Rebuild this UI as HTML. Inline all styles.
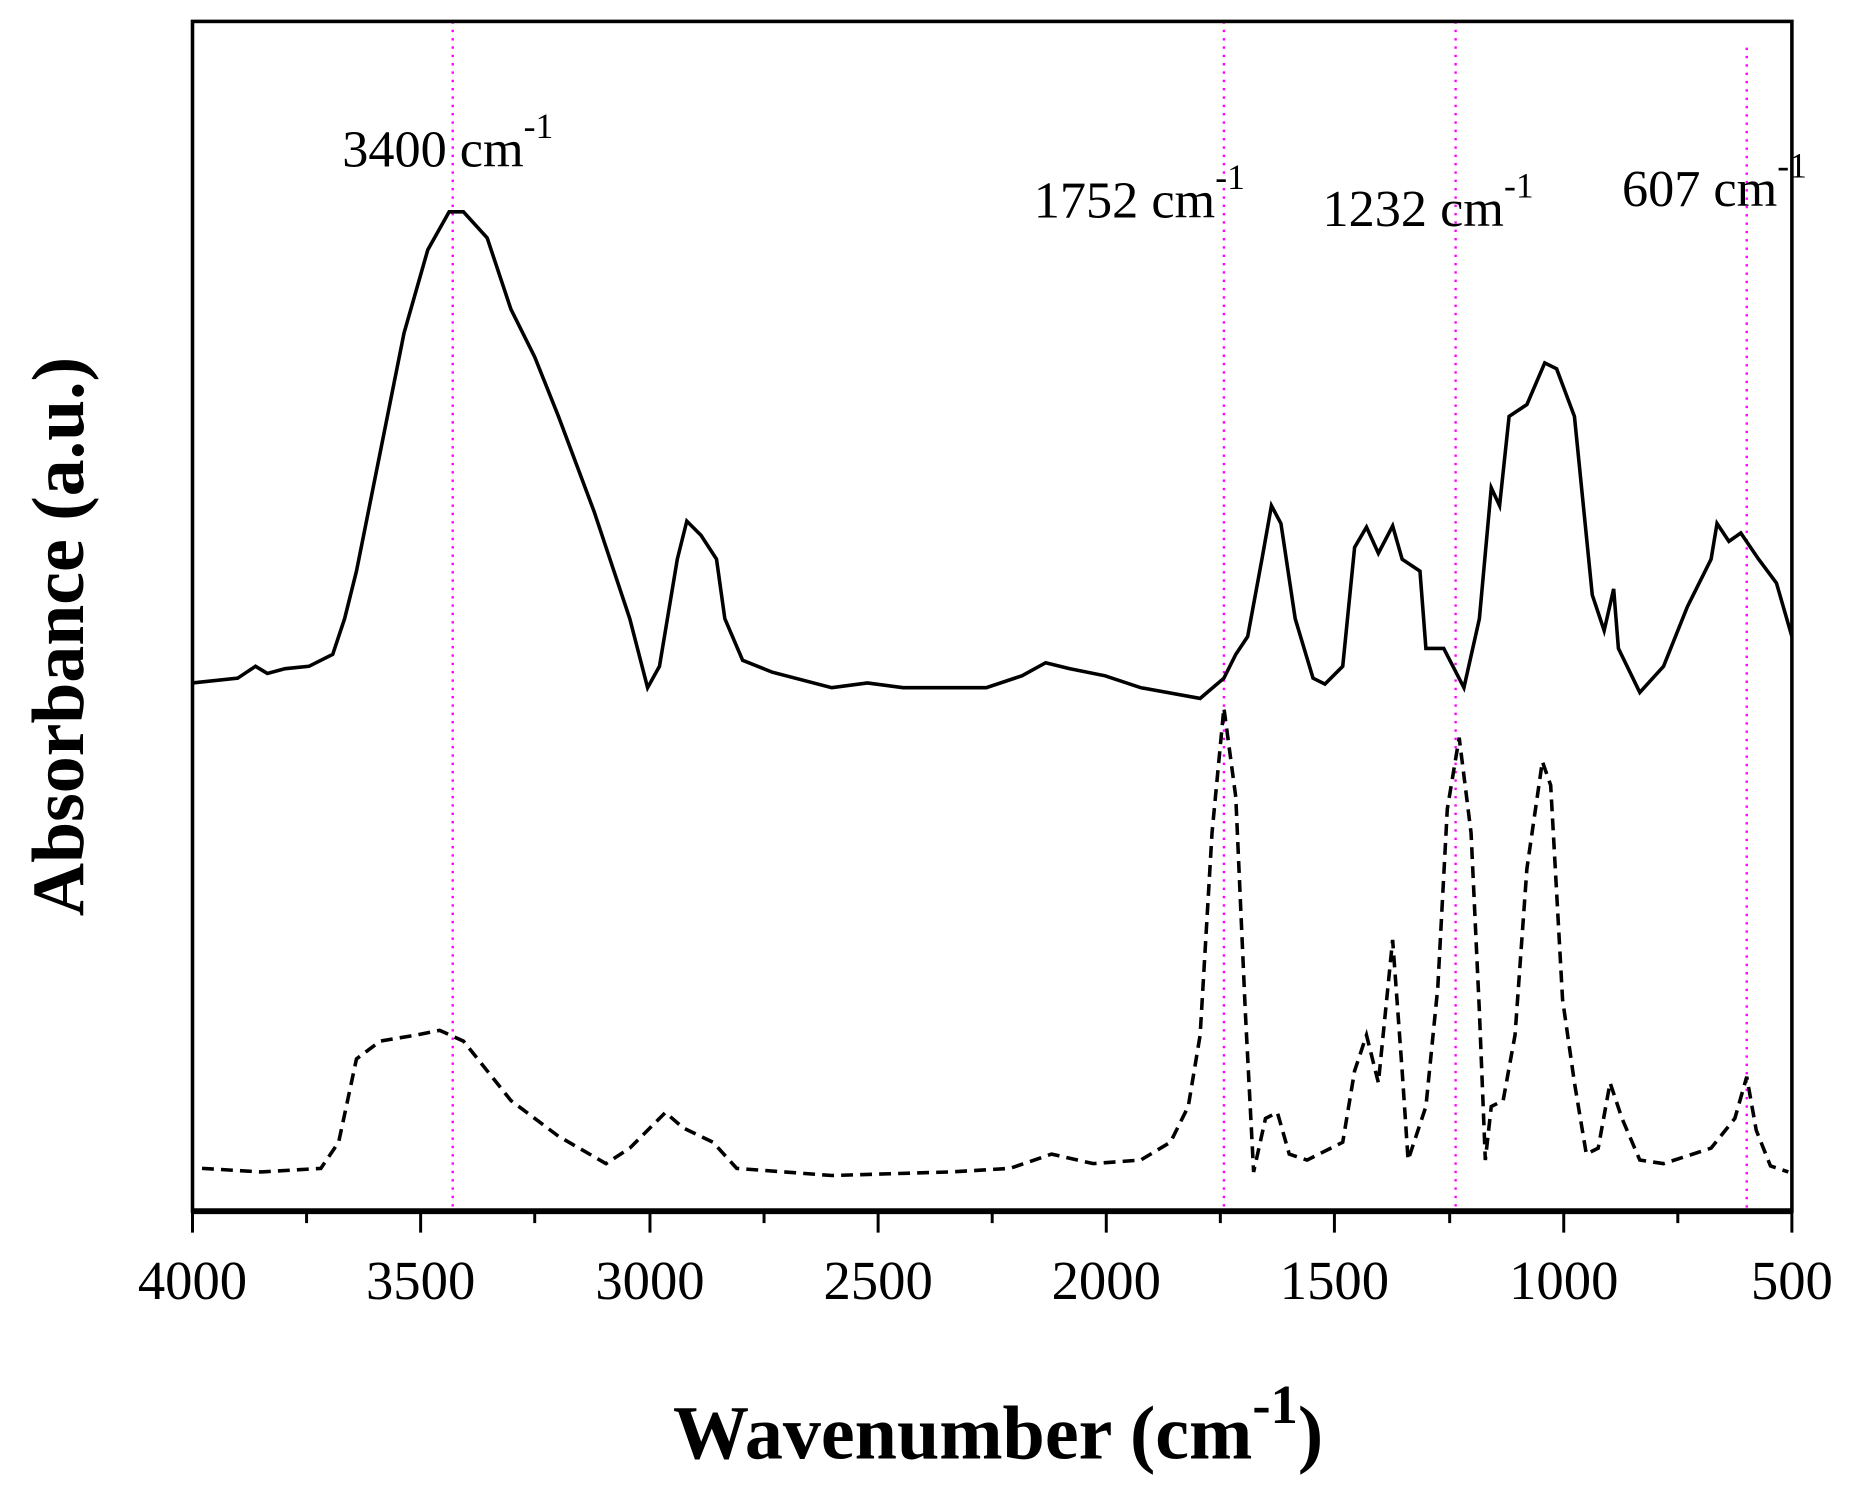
<!DOCTYPE html>
<html><head><meta charset="utf-8"><style>html,body{margin:0;padding:0;background:#fff}svg{display:block}</style></head><body>
<svg width="1862" height="1492" viewBox="0 0 1567 1254" preserveAspectRatio="none" xmlns="http://www.w3.org/2000/svg" font-family="Liberation Serif, serif">
<g stroke="#ff00ff" stroke-width="2" stroke-dasharray="2,5">
<line x1="381" y1="18" x2="381" y2="1018"/><line x1="1030" y1="18" x2="1030" y2="1018"/><line x1="1225" y1="18" x2="1225" y2="1018"/><line x1="1470" y1="40" x2="1470" y2="1018"/>
</g>
<polyline fill="none" stroke="#000" stroke-width="3" points="162,574 200,570 215,560 225,566 240,562 260,560 280,550 290,520 300,480 320,380 340,280 360,210 378,178 390,178 410,200 430,260 450,300 470,350 500,430 530,520 545,578 555,560 570,470 578,438 590,450 603,470 610,520 625,555 650,565 700,578 730,574 760,578 830,578 860,568 880,557 900,562 930,568 960,578 1010,587 1030,570 1040,550 1050,535 1062,470 1070,425 1078,440 1090,520 1105,570 1115,575 1130,560 1140,460 1150,443 1160,465 1172,442 1180,470 1195,480 1200,545 1215,545 1232,578 1245,520 1255,410 1262,425 1270,350 1285,340 1300,305 1310,310 1325,350 1340,500 1350,530 1358,495 1362,545 1380,582 1400,560 1420,510 1440,470 1445,440 1455,455 1465,448 1480,470 1495,490 1508,535"/>
<polyline fill="none" stroke="#000" stroke-width="3" stroke-dasharray="10,6" points="170,982 220,985 270,982 285,960 300,890 320,875 350,870 370,866 390,875 410,900 430,925 470,955 510,978 530,965 560,935 575,948 600,960 620,982 700,988 800,985 850,982 885,970 920,978 960,975 985,960 1000,930 1010,870 1020,700 1030,595 1040,670 1048,850 1055,985 1065,940 1075,935 1085,970 1100,975 1130,960 1140,900 1150,870 1160,910 1172,790 1180,900 1185,975 1200,930 1210,830 1218,680 1228,620 1238,700 1245,850 1250,975 1255,930 1265,925 1275,870 1285,730 1298,640 1305,660 1315,840 1325,910 1335,970 1345,965 1355,910 1365,940 1380,975 1400,978 1440,965 1460,940 1470,905 1478,950 1490,980 1505,985"/>
<rect x="162" y="18" width="1346" height="1000" fill="none" stroke="#000" stroke-width="3"/>
<line x1="162" y1="1018" x2="1508" y2="1018" stroke="#000" stroke-width="5"/>
<g stroke="#000" stroke-width="2.5">
<line x1="162" y1="1018" x2="162" y2="1036"/><line x1="258" y1="1018" x2="258" y2="1028"/><line x1="354" y1="1018" x2="354" y2="1036"/><line x1="450" y1="1018" x2="450" y2="1028"/><line x1="547" y1="1018" x2="547" y2="1036"/><line x1="643" y1="1018" x2="643" y2="1028"/><line x1="739" y1="1018" x2="739" y2="1036"/><line x1="835" y1="1018" x2="835" y2="1028"/><line x1="931" y1="1018" x2="931" y2="1036"/><line x1="1027" y1="1018" x2="1027" y2="1028"/><line x1="1123" y1="1018" x2="1123" y2="1036"/><line x1="1220" y1="1018" x2="1220" y2="1028"/><line x1="1316" y1="1018" x2="1316" y2="1036"/><line x1="1412" y1="1018" x2="1412" y2="1028"/><line x1="1508" y1="1018" x2="1508" y2="1036"/>
</g>
<g font-size="46" text-anchor="middle">
<text x="162" y="1092">4000</text><text x="354" y="1092">3500</text><text x="547" y="1092">3000</text><text x="739" y="1092">2500</text><text x="931" y="1092">2000</text><text x="1123" y="1092">1500</text><text x="1316" y="1092">1000</text><text x="1508" y="1092">500</text>
</g>
<g font-size="44">
<text x="288" y="140">3400 cm<tspan font-size="30" dy="-24">-1</tspan></text>
<text x="870" y="183">1752 cm<tspan font-size="30" dy="-24">-1</tspan></text>
<text x="1113" y="190">1232 cm<tspan font-size="30" dy="-24">-1</tspan></text>
<text x="1365" y="173">607 cm<tspan font-size="30" dy="-24">-1</tspan></text>
</g>
<text x="840" y="1226" font-size="64" font-weight="bold" text-anchor="middle">Wavenumber (cm<tspan font-size="46" dy="-30">-1</tspan><tspan dy="30">)</tspan></text>
<text transform="translate(70,535) rotate(-90)" font-size="62" font-weight="bold" text-anchor="middle">Absorbance (a.u.)</text>
</svg>
</body></html>
